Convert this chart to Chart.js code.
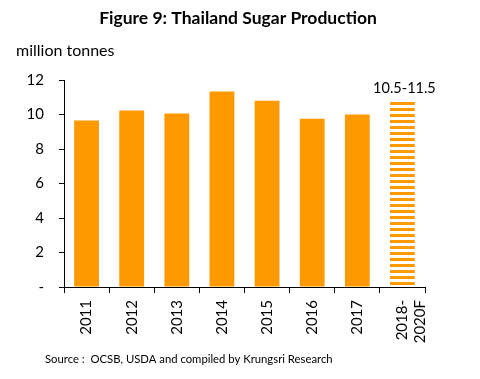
<!DOCTYPE html>
<html>
<head>
<meta charset="utf-8">
<style>
  html, body { margin: 0; padding: 0; background: #fff; }
  #wrap { position: relative; width: 480px; height: 379px; }
</style>
<script src="https://cdn.jsdelivr.net/npm/chart.js@4"></script>
</head>
<body>
<div id="wrap"><canvas id="sugarChart" width="480" height="379"></canvas></div>
<script>
// Thailand sugar production, million tonnes
const years = ['2011', '2012', '2013', '2014', '2015', '2016', '2017', ['2018-', '2020F']];
const production = [9.65, 10.23, 10.06, 11.34, 10.8, 9.75, 10.0, 10.8];
const forecastLabel = '10.5-11.5';
const yTicks = [0, 2, 4, 6, 8, 10, 12];

const ORANGE = '#ff9900';
const FONT = 'Lato, "Liberation Sans", sans-serif';

// striped fill for the forecast bar
function stripePattern() {
  const c = document.createElement('canvas');
  c.width = 8; c.height = 6;
  const g = c.getContext('2d');
  g.fillStyle = ORANGE;
  g.fillRect(0, 0, 8, 3);
  return g.createPattern(c, 'repeat');
}

const barColors = production.map((v, i) => i === production.length - 1 ? stripePattern() : ORANGE);

const extraText = {
  id: 'extraText',
  afterDraw(chart) {
    const ctx = chart.ctx;
    ctx.save();
    ctx.fillStyle = '#000';
    ctx.textBaseline = 'middle';
    ctx.textAlign = 'center';
    ctx.font = 'bold 17.5px ' + FONT;
    ctx.fillText('Figure 9: Thailand Sugar Production', 238, 18);
    ctx.textAlign = 'left';
    ctx.font = '16px ' + FONT;
    ctx.fillText('million tonnes', 16, 51);
    ctx.font = '11.3px ' + FONT;
    ctx.fillText('Source :  OCSB, USDA and compiled by Krungsri Research', 45, 359);
    // range label over forecast bar
    const bar = chart.getDatasetMeta(0).data[production.length - 1];
    ctx.textAlign = 'center';
    ctx.font = '14.5px ' + FONT;
    ctx.fillText(forecastLabel, bar.x + 2, 88);
    ctx.restore();
  }
};

new Chart(document.getElementById('sugarChart'), {
  type: 'bar',
  data: {
    labels: years,
    datasets: [{ data: production, backgroundColor: barColors, categoryPercentage: 1, barPercentage: 0.55 }]
  },
  options: {
    responsive: false,
    animation: false,
    layout: { padding: { left: 0, right: 55, top: 80, bottom: 0 } },
    plugins: { legend: { display: false }, tooltip: { enabled: false }, title: { display: false } },
    scales: {
      x: {
        afterFit: s => { s.height = 92; },
        grid: { drawOnChartArea: false, drawTicks: true, tickLength: 6, color: '#000', offset: true },
        border: { display: true, color: '#000' },
        ticks: { color: '#000', font: { family: FONT, size: 15 }, minRotation: 90, maxRotation: 90, padding: 7 }
      },
      y: {
        min: 0, max: 12,
        afterFit: s => { s.width = 64; },
        afterBuildTicks: s => { s.ticks = yTicks.map(v => ({ value: v })); },
        grid: { drawOnChartArea: false, drawTicks: true, tickLength: 5, color: '#000' },
        border: { display: true, color: '#000' },
        ticks: { color: '#000', font: { family: FONT, size: 15 }, padding: 15, callback: v => v === 0 ? '-' : v }
      }
    }
  },
  plugins: [extraText]
});
</script>
</body>
</html>
